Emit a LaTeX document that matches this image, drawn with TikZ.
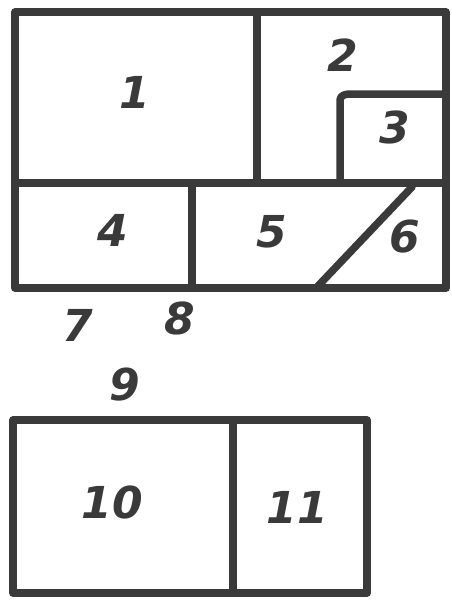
\documentclass[tikz,border=0pt]{standalone}
\usepackage{fontspec}
\setmainfont{DejaVu Sans}
\begin{document}
\begin{tikzpicture}[x=1pt,y=-1pt,
  wall/.style={draw=ink,line width=7.5pt,line cap=round,line join=round},
  lbl/.style={text=ink,font=\fontsize{44}{44}\selectfont\bfseries\itshape,inner sep=0pt}]
\definecolor{ink}{HTML}{3A3A3A}
\useasboundingbox[fill=white] (0,0) rectangle (452,600);
% top plan
\draw[wall] (15,12) rectangle (446,288);
\draw[wall] (257,12) -- (257,183);
\draw[wall] (15,183) -- (442,183);
\draw[wall] (340,183) -- (340,100) to[out=90,in=180] (350,94) -- (446,94);
\draw[wall] (192,183) -- (192,288);
\draw[wall] (412,187) -- (318,286);
% bottom plan
\draw[wall] (13,420) rectangle (367,593);
\draw[wall] (233,420) -- (233,593);
% labels
\node[lbl] (n1) at (135,92) {1};
\node[lbl] (n2) at (343,55) {2};
\node[lbl] (n3) at (395,127) {3};
\node[lbl] (n4) at (113,230) {4};
\node[lbl] (n5) at (272,232) {5};
\node[lbl] (n6) at (405,237) {6};
\node[lbl] (n7) at (78,325) {7};
\node[lbl] (n8) at (180,318) {8};
\node[lbl] (n9) at (125,385) {9};
\node[lbl] (n10) at (112,502) {10};
\node[lbl] (n11) at (297,507) {11};
\end{tikzpicture}
\end{document}
